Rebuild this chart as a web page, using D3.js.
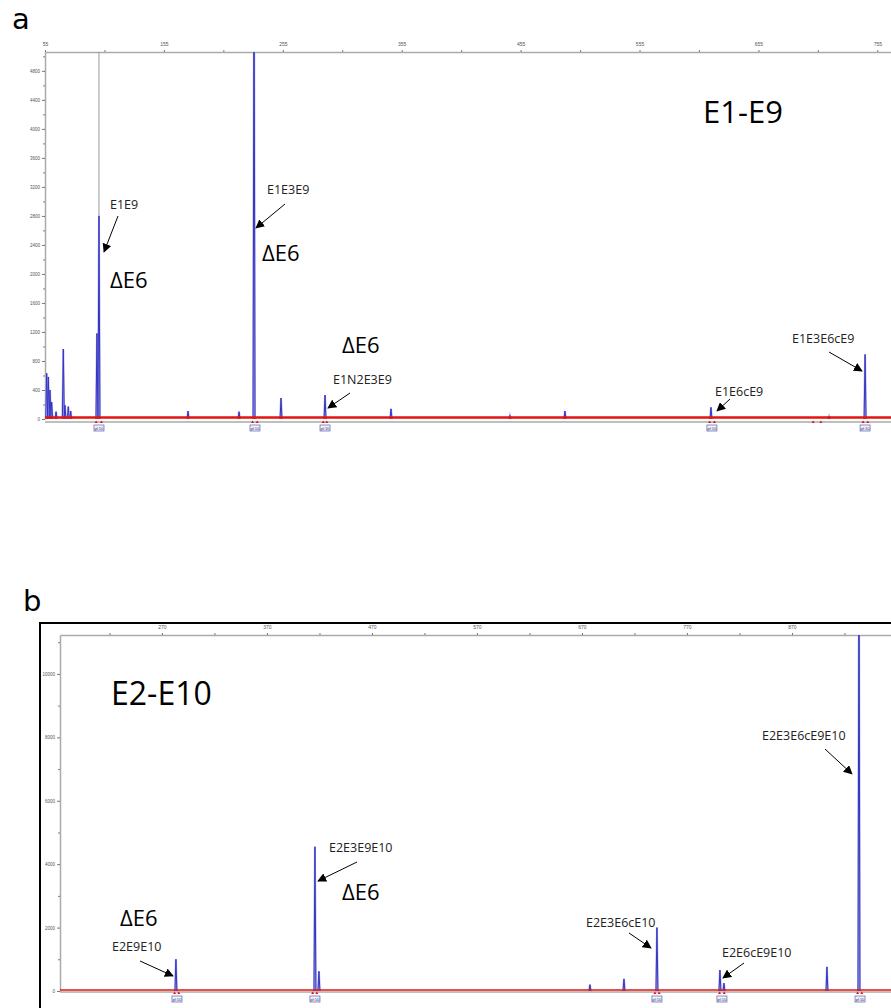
<!DOCTYPE html>
<html>
<head>
<meta charset="utf-8">
<script src="https://cdn.jsdelivr.net/npm/d3@7"></script>
<style>
  body { margin: 0; background: #fff; }
  svg { display: block; }
  .tick text { font-family: Arial, sans-serif; }
</style>
</head>
<body>
<script>
// ---- panel a (E1-E9) ----
var peakPosA = [56.4, 57.8, 59.2, 60.6, 64.3, 70.4, 71.8, 74.6, 76.6, 98.7, 100.4, 175.3, 218.2, 230.8, 253.5, 290.5, 346, 446, 492.3, 615.1, 714.4, 744.7];
var peakHtA  = [630, 580, 400, 235, 100, 965, 190, 170, 110, 1180, 2800, 110, 100, 6500, 290, 330, 140, 50, 110, 160, 40, 890];
var binsA = [100.4, 231.6, 290.5, 615.9, 744.7];
var redDotsA = [98, 102.5, 229.5, 233.5, 289, 292, 614, 618, 701, 707.5, 743, 747];
var xTicksA = [55, 155, 255, 355, 455, 555, 655, 755];
var yTicksA = [0, 400, 800, 1200, 1600, 2000, 2400, 2800, 3200, 3600, 4000, 4400, 4800];

// ---- panel b (E2-E10) ----
var peakPosB = [283.3, 415.7, 419.5, 677.6, 710, 741.4, 801.4, 805.2, 903.3, 933.8];
var peakHtB  = [1000, 4550, 620, 200, 380, 2000, 660, 250, 760, 14000];
var binsB = [284.3, 415.7, 741.4, 803.3, 934.8];
var redDotsB = [282, 286, 413.5, 417.5, 739.5, 743.5, 801, 805.5, 932.5, 936.5];
var xTicksB = [270, 370, 470, 570, 670, 770, 870];
var yTicksB = [0, 2000, 4000, 6000, 8000, 10000];

var W = 891, H = 1008;
var svg = d3.select("body").append("svg").attr("width", W).attr("height", H);
var defs = svg.append("defs");
defs.append("marker").attr("id", "arr").attr("viewBox", "0 0 10 10")
  .attr("refX", 9).attr("refY", 5).attr("markerWidth", 9).attr("markerHeight", 9)
  .attr("markerUnits", "userSpaceOnUse").attr("orient", "auto")
  .append("path").attr("d", "M0,0 L10,5 L0,10 Z").attr("fill", "#000");

function panel(cfg) {
  var x = d3.scaleLinear().domain(cfg.xDom).range([cfg.left, W]);
  var y = d3.scaleLinear().domain(cfg.yDom).range([cfg.bottom, cfg.top]);
  var g = svg.append("g");

  defs.append("clipPath").attr("id", cfg.id)
    .append("rect").attr("x", cfg.left).attr("y", cfg.top)
    .attr("width", W - cfg.left).attr("height", cfg.bottom - cfg.top + 2);

  // top axis
  var minorX = cfg.xTicks.map(function(d){ return d + 50; }).concat([cfg.xTicks[0] - 50]);
  g.append("g").attr("transform", "translate(0," + cfg.top + ")")
    .call(d3.axisTop(x).tickValues(minorX.filter(function(d){ return d > cfg.xDom[0]; })).tickSize(2).tickFormat(""))
    .call(function(s){ s.select(".domain").remove(); s.selectAll("line").attr("stroke", "#777"); });
  g.append("g").attr("transform", "translate(0," + cfg.top + ")")
    .call(d3.axisTop(x).tickValues(cfg.xTicks).tickSize(2).tickPadding(4).tickSizeOuter(0).tickFormat(d3.format("d")))
    .call(function(s){
      s.select(".domain").attr("stroke", "#aaa").attr("stroke-width", 1.5);
      s.selectAll("line").attr("stroke", "#777");
      s.selectAll("text").attr("font-size", 5).attr("fill", "#555");
    });

  // left axis
  var step = cfg.yTicks[1] - cfg.yTicks[0];
  var minorY = cfg.yTicks.map(function(d){ return d + step / 2; });
  g.append("g").attr("transform", "translate(" + cfg.left + ",0)")
    .call(d3.axisLeft(y).tickValues(minorY).tickSize(2).tickFormat(""))
    .call(function(s){ s.select(".domain").remove(); s.selectAll("line").attr("stroke", "#777"); });
  g.append("g").attr("transform", "translate(" + cfg.left + ",0)")
    .call(d3.axisLeft(y).tickValues(cfg.yTicks).tickSize(3).tickPadding(2).tickSizeOuter(0).tickFormat(d3.format("d")))
    .call(function(s){
      s.select(".domain").attr("stroke", "#aaa").attr("stroke-width", 1.5);
      s.selectAll("line").attr("stroke", "#777");
      s.selectAll("text").attr("font-size", 4.5).attr("fill", "#555");
    });

  // baseline
  g.append("line").attr("x1", cfg.left).attr("x2", W)
    .attr("y1", y(0) + cfg.baseOff).attr("y2", y(0) + cfg.baseOff)
    .attr("stroke", "#aaa").attr("stroke-width", 1.5);

  var plot = g.append("g").attr("clip-path", "url(#" + cfg.id + ")");

  if (cfg.marker != null) {
    plot.append("line").attr("x1", x(cfg.marker)).attr("x2", x(cfg.marker))
      .attr("y1", cfg.top).attr("y2", y(0)).attr("stroke", "#999").attr("stroke-width", 1);
  }

  // blue peaks
  var line = d3.line().x(function(d){ return x(d[0]); }).y(function(d){ return y(d[1]); });
  var peaks = cfg.pos.map(function(p, i){ return [[p - cfg.hw, 0], [p, cfg.ht[i]], [p + cfg.hw, 0]]; });
  plot.selectAll(".halo").data(peaks).enter().append("path").attr("d", line)
    .attr("fill", "none").attr("stroke", "#b4b4e6").attr("stroke-width", 2);
  plot.selectAll(".pk").data(peaks).enter().append("path").attr("d", line)
    .attr("fill", "none").attr("stroke", "#3535c4").attr("stroke-width", 1);

  // red noise band
  plot.append("line").attr("x1", cfg.left).attr("x2", W)
    .attr("y1", y(cfg.noise)).attr("y2", y(cfg.noise))
    .attr("stroke", "#e3140f").attr("stroke-width", cfg.noiseW);

  // bins below axis
  var by = y(0) + cfg.binOff;
  g.selectAll(".rd" + cfg.id).data(cfg.red).enter().append("path")
    .attr("d", function(d){ var px = x(d); return "M" + (px - 1.5) + "," + (by - 2) + "L" + (px + 1.5) + "," + (by - 2) + "L" + px + "," + (by - 4.5) + "Z"; })
    .attr("fill", "#e3140f");
  var bg = g.selectAll(".bin" + cfg.id).data(cfg.bins).enter().append("g");
  bg.append("rect").attr("x", function(d){ return x(d) - 5; }).attr("y", by)
    .attr("width", 10).attr("height", 6).attr("fill", "#f3f3ff")
    .attr("stroke", "#5b5bb8").attr("stroke-width", 0.7);
  bg.append("text").attr("x", function(d){ return x(d); }).attr("y", by + 4.6)
    .attr("text-anchor", "middle").attr("font-size", 4).attr("font-family", "Arial")
    .attr("fill", "#333").text("pl:10");

  return { x: x, y: y };
}

panel({ id: "ca", xDom: [55, 766.5], yDom: [0, 5060], left: 45, top: 52, bottom: 419,
  xTicks: xTicksA, yTicks: yTicksA, pos: peakPosA, ht: peakHtA, hw: 0.8,
  bins: binsA, red: redDotsA, marker: 100.4, noise: 20, noiseW: 2.5, baseOff: 3, binOff: 6 });

panel({ id: "cb", xDom: [172.9, 964.3], yDom: [0, 11228], left: 60, top: 635, bottom: 991,
  xTicks: xTicksB, yTicks: yTicksB, pos: peakPosB, ht: peakHtB, hw: 0.9,
  bins: binsB, red: redDotsB, marker: null, noise: 30, noiseW: 1.5, baseOff: 1, binOff: 5 });

// frame of panel b
svg.append("rect").attr("x", 40).attr("y", 623).attr("width", 870).attr("height", 400)
  .attr("fill", "none").attr("stroke", "#000").attr("stroke-width", 2);

// panel letters and titles
var font = "'Open Sans', sans-serif";
function txt(t, x, y, size, col, fam) {
  svg.append("text").attr("x", x).attr("y", y).attr("font-family", fam || font)
    .attr("font-size", size).attr("fill", col || "#000").text(t);
}
txt("a", 12, 29, 29, "#000", "'DejaVu Sans', sans-serif");
txt("b", 23, 611, 29, "#000", "'DejaVu Sans', sans-serif");
txt("E1-E9", 703, 123, 31);
txt("E2-E10", 111, 705, 32);

// small labels: [text, x, y]
var labels = [
  ["E1E9", 110, 209], ["E1E3E9", 267, 194], ["E1N2E3E9", 333, 384], ["E1E6cE9", 715, 396], ["E1E3E6cE9", 792, 343],
  ["E2E9E10", 112, 951], ["E2E3E9E10", 329, 852], ["E2E3E6cE10", 586, 927], ["E2E6cE9E10", 722, 957], ["E2E3E6cE9E10", 762, 740]
];
labels.forEach(function(l){ txt(l[0], l[1], l[2], 12.5, "#222"); });

var deltas = [[110, 288], [262, 261], [342, 353], [120, 926], [342, 900]];
deltas.forEach(function(d){ txt("\u0394E6", d[0], d[1], 22); });

// arrows: [x1, y1, x2, y2]
var arrows = [
  [118, 216, 104, 252], [285, 204, 256, 228], [350, 393, 328, 408], [730, 399, 717, 411], [829, 352, 862, 371],
  [140, 961, 173, 976], [357, 862, 318, 881], [629, 933, 651, 948], [744, 963, 723, 978], [825, 749, 852, 774]
];
arrows.forEach(function(a){
  svg.append("line").attr("x1", a[0]).attr("y1", a[1]).attr("x2", a[2]).attr("y2", a[3])
    .attr("stroke", "#000").attr("stroke-width", 1).attr("marker-end", "url(#arr)");
});
</script>
</body>
</html>
